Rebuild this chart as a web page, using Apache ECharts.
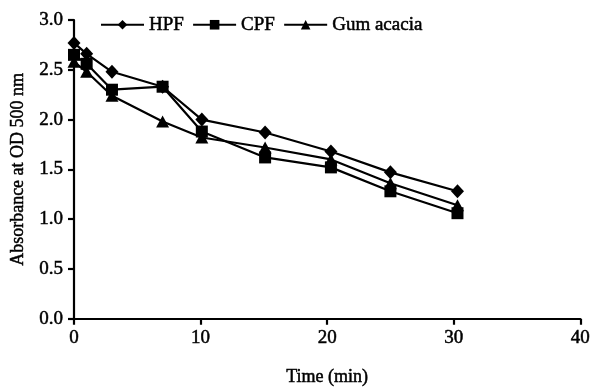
<!DOCTYPE html>
<html><head><meta charset="utf-8">
<script src="https://cdn.jsdelivr.net/npm/echarts@6/dist/echarts.min.js"></script>
<style>html,body{margin:0;padding:0;background:#fff}#c{width:593px;height:392px}</style>
</head><body><div id="c"></div>
<script>
const times = [0, 1, 3, 7, 10.1, 15.1, 20.3, 25, 30.3];
const hpf = [2.77, 2.66, 2.48, 2.33, 2.00, 1.87, 1.68, 1.47, 1.28];
const cpf = [2.65, 2.56, 2.30, 2.33, 1.88, 1.62, 1.52, 1.28, 1.06];
const gum = [2.58, 2.48, 2.24, 1.98, 1.82, 1.72, 1.60, 1.36, 1.14];
const seriesNames = ['HPF', 'CPF', 'Gum acacia'];
const xTicks = [0, 10, 20, 30, 40];
const yTicks = [0, 0.5, 1, 1.5, 2, 2.5, 3];

const font = 'Liberation Serif';
const txt = (size) => ({fontFamily: font, fontSize: size, color: '#000',
  textBorderColor: '#000', textBorderWidth: 0.5});
const pair = (v) => times.map((t, i) => [t, v[i]]);
const mk = (name, data, symbol, size) => ({
  name, type: 'line', data: pair(data), symbol, symbolSize: size,
  lineStyle: {color: '#000', width: 2.2}, itemStyle: {color: '#000'},
  showSymbol: true, animation: false, z: 3
});
const chart = echarts.init(document.getElementById('c'));
chart.setOption({
  animation: false,
  grid: {left: 74, right: 11, top: 20, bottom: 68},
  legend: {
    top: 10, left: 95, itemWidth: 43, itemHeight: 12, itemGap: 8,
    textStyle: Object.assign(txt(19), {padding: [0, 0, 0, 0]}),
    data: seriesNames
  },
  xAxis: {
    type: 'value', min: xTicks[0], max: xTicks[xTicks.length - 1], interval: 10,
    name: 'Time (min)', nameLocation: 'middle', nameGap: 50,
    nameTextStyle: txt(18),
    axisLine: {lineStyle: {color: '#000', width: 2.2}},
    axisTick: {show: true, inside: false, length: 6, lineStyle: {color: '#000', width: 2.2}},
    axisLabel: Object.assign(txt(19), {margin: 10}),
    splitLine: {show: false}
  },
  yAxis: {
    type: 'value', min: yTicks[0], max: yTicks[yTicks.length - 1], interval: 0.5,
    name: 'Absorbance at OD 500 nm', nameLocation: 'middle', nameGap: 47,
    nameTextStyle: txt(18),
    axisLine: {show: true, lineStyle: {color: '#000', width: 2.2}},
    axisTick: {show: true, inside: false, length: 6, lineStyle: {color: '#000', width: 2.2}},
    axisLabel: Object.assign(txt(19), {margin: 11, formatter: v => v.toFixed(1)}),
    splitLine: {show: false}
  },
  series: [
    mk(seriesNames[0], hpf, 'diamond', [13, 14]),
    mk(seriesNames[1], cpf, 'rect', 12),
    mk(seriesNames[2], gum, 'triangle', [13, 12])
  ]
});
</script></body></html>
